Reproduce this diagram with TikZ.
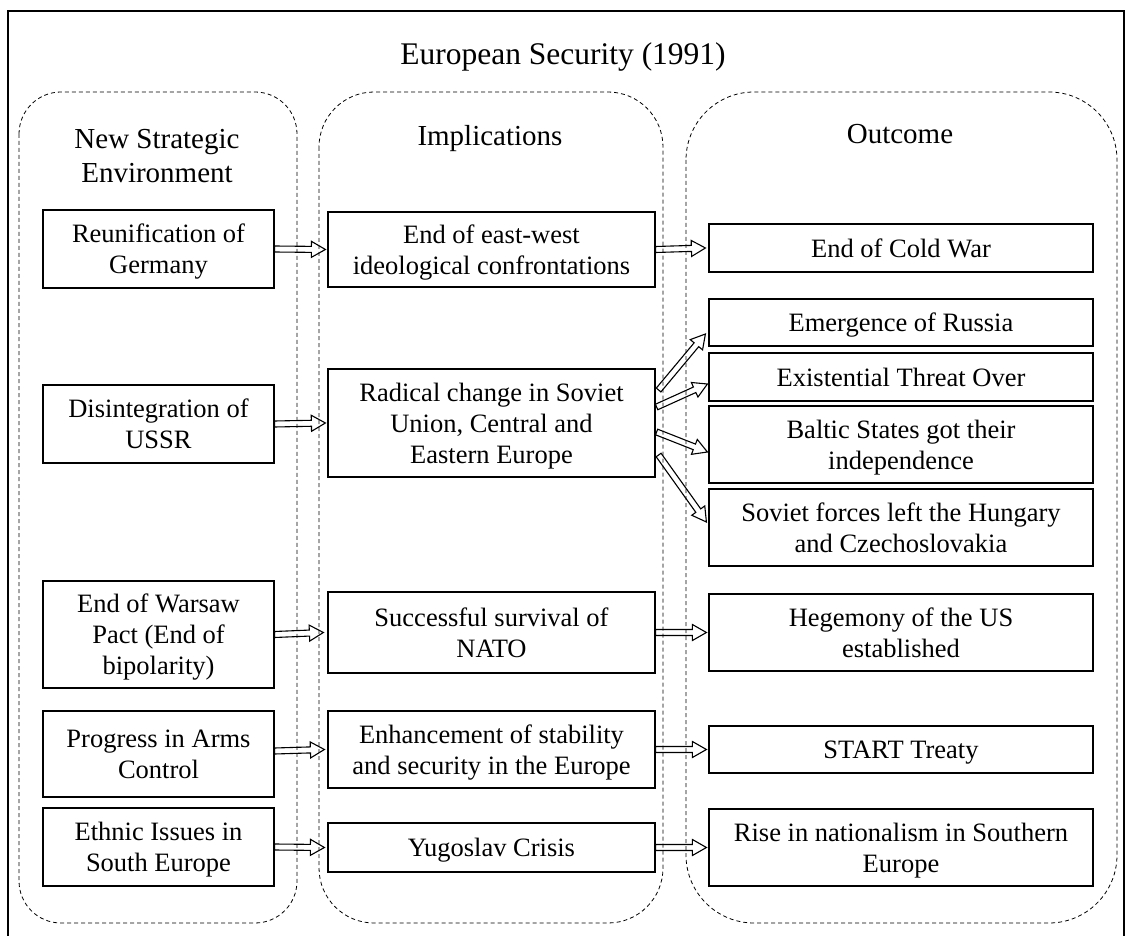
\documentclass[tikz,border=0pt]{standalone}
\usepackage{fontspec}
\setmainfont{Liberation Serif}
\usetikzlibrary{calc}
\tikzset{
  box/.style={draw, line width=1.2pt, inner sep=0pt, align=center,
    font=\fontsize{26.5}{31}\selectfont, text depth=-6pt},
  lbox/.style={box, minimum width=231pt},
  mbox/.style={box, minimum width=327pt},
  rbox/.style={box, minimum width=384pt},
  group/.style={draw, line width=0.8pt, dash pattern=on 4pt off 3pt},
  header/.style={align=center, inner sep=0pt, font=\fontsize{29}{34}\selectfont},
  blockarrow/.style={draw, line width=1.1pt, line join=miter, to path={
    let \p1=(\tikztostart), \p2=(\tikztotarget), \n1={atan2(\y2-\y1,\x2-\x1)} in
    ($(\p1)+(\n1+90:3pt)$) -- ($(\p2)!14pt!(\p1)+(\n1+90:3pt)$)
    -- ($(\p2)!14pt!(\p1)+(\n1+90:8pt)$) -- (\p2)
    -- ($(\p2)!14pt!(\p1)+(\n1-90:8pt)$) -- ($(\p2)!14pt!(\p1)+(\n1-90:3pt)$)
    -- ($(\p1)+(\n1-90:3pt)$) -- cycle}}
}
\begin{document}
\begin{tikzpicture}[x=1pt,y=-1pt]
\useasboundingbox (0,0) rectangle (1125,936);
% outer frame
\draw[line width=1.3pt] (8,940) -- (8,11) -- (1124,11) -- (1124,940);
% title
\node[anchor=base, inner sep=0pt, font=\fontsize{31.5}{36}\selectfont] (title) at (563,65) {European Security (1991)};
% dashed groups
\draw[group, rounded corners=42pt] (19,92) rectangle (297,923);
\draw[group, rounded corners=55pt] (319,92) rectangle (663,923);
\draw[group, rounded corners=68pt] (686,92) rectangle (1117,923);
% headers
\node[header, text depth=0pt] (h1) at (157,156) {New Strategic\\Environment};
\node[header, anchor=base] (h2) at (490,146) {Implications};
\node[header, anchor=base] (h3) at (900,144) {Outcome};
% left column
\node[lbox, minimum height=78pt]  (l1) at (158.5,249)   {Reunification of\\Germany};
\node[lbox, minimum height=78pt]  (l2) at (158.5,424)   {Disintegration of\\USSR};
\node[lbox, minimum height=107pt] (l3) at (158.5,634.5) {End of Warsaw\\Pact (End of\\bipolarity)};
\node[lbox, minimum height=86pt]  (l4) at (158.5,754)   {Progress in Arms\\Control};
\node[lbox, minimum height=78pt]  (l5) at (158.5,847)   {Ethnic Issues in\\South Europe};
% middle column
\node[mbox, minimum height=75pt]  (m1) at (491.5,249.5) {End of east-west\\ideological confrontations};
\node[mbox, minimum height=108pt] (m2) at (491.5,423)   {Radical change in Soviet\\Union, Central and\\Eastern Europe};
\node[mbox, minimum height=81pt]  (m3) at (491.5,632.5) {Successful survival of\\NATO};
\node[mbox, minimum height=77pt]  (m4) at (491.5,749.5) {Enhancement of stability\\and security in the Europe};
\node[mbox, minimum height=49pt]  (m5) at (491.5,847.5) {Yugoslav Crisis};
% right column
\node[rbox, minimum height=48pt] (r1) at (901,248)   {End of Cold War};
\node[rbox, minimum height=47pt] (r2) at (901,322.5) {Emergence of Russia};
\node[rbox, minimum height=48pt] (r3) at (901,377)   {Existential Threat Over};
\node[rbox, minimum height=77pt] (r4) at (901,444.5) {Baltic States got their\\independence};
\node[rbox, minimum height=77pt] (r5) at (901,527.5) {Soviet forces left the Hungary\\and Czechoslovakia};
\node[rbox, minimum height=77pt] (r6) at (901,632.5) {Hegemony of the US\\established};
\node[rbox, minimum height=47pt] (r7) at (901,749.5) {START Treaty};
\node[rbox, minimum height=77pt] (r8) at (901,847.5) {Rise in nationalism in Southern\\Europe};
% arrows left -> middle
\draw[blockarrow] (l1.east) to ($(m1.west)+(-2,0)$);
\draw[blockarrow] (l2.east) to ($(m2.west)+(-2,0)$);
\draw[blockarrow] (l3.east) to ($(m3.west)+(-4,0)$);
\draw[blockarrow] ($(l4.east)+(0,-3)$) to ($(m4.west)+(-3,0)$);
\draw[blockarrow] (l5.east) to ($(m5.west)+(-3,0)$);
% arrows middle -> right
\draw[blockarrow] (m1.east) to ($(r1.west)+(-3,0)$);
\draw[blockarrow] (m3.east) to ($(r6.west)+(-2,0)$);
\draw[blockarrow] (m4.east) to ($(r7.west)+(-2,0)$);
\draw[blockarrow] (m5.east) to ($(r8.west)+(-2,0)$);
% fan from m2
\draw[blockarrow] ($(m2.east)+(3,-33)$) to ($(r2.west)+(-3,11.5)$);
\draw[blockarrow] ($(m2.east)+(1,-16)$) to ($(r3.west)+(-1,7)$);
\draw[blockarrow] ($(m2.east)+(1,9)$)   to ($(r4.west)+(-1,7.5)$);
\draw[blockarrow] ($(m2.east)+(3,32)$)  to ($(r5.west)+(-2,-5.5)$);
\end{tikzpicture}
\end{document}
